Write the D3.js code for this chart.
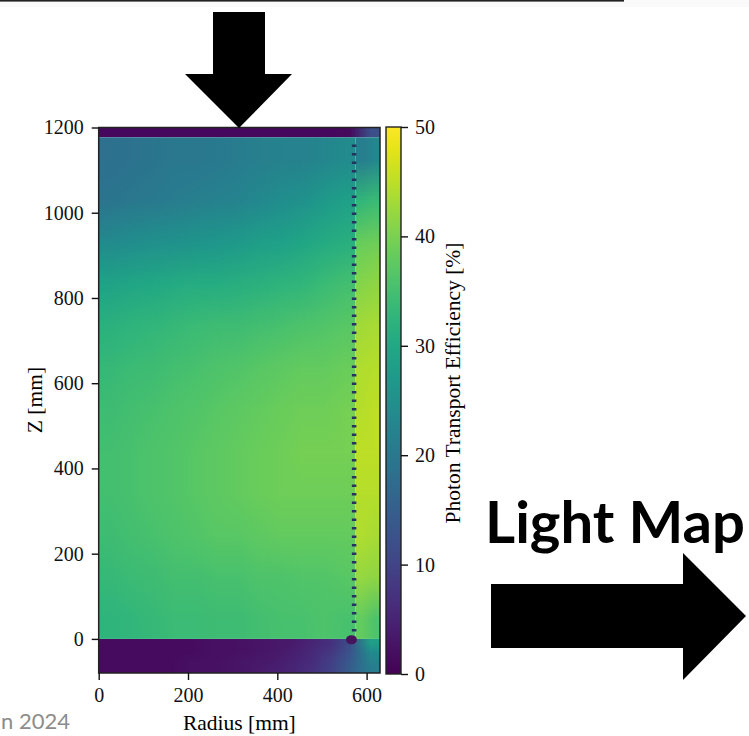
<!DOCTYPE html>
<html>
<head>
<meta charset="utf-8">
<script src="https://cdn.jsdelivr.net/npm/d3@7"></script>
<style>
  body { margin: 0; background: #fff; }
  svg { display: block; }
  .tick text { font-family: "Liberation Serif", serif; font-size: 20px; fill: #111; }
  .tick line { stroke: #111; stroke-width: 1.4; }
</style>
</head>
<body>
<script>
// valeurs (efficacite en %)
const xTicks = [0, 200, 400, 600];
const zTicks = [0, 200, 400, 600, 800, 1000, 1200];
const cTicks = [0, 10, 20, 30, 40, 50];

const rDomain = [0, 630];
const zDomain = [-80, 1200];
const cDomain = [0, 50];

// interieur : r 0..575, z 0..1177 (lignes de haut en bas)
const interiorR = [0, 575];
const interiorZ = [0, 1177];
const interior = [
  [18.5, 19, 19.5, 20, 20, 20.5, 21, 21.5, 22, 22, 23, 24],
  [19.5, 20, 20.5, 21, 21.5, 22, 22.5, 23.5, 24.5, 25.5, 27, 28.5],
  [24, 24.5, 25, 25.5, 26, 26.5, 27, 28, 28.5, 29.5, 30.5, 31.5],
  [29, 29.5, 30, 30.5, 31, 31, 31.5, 32, 32.5, 33, 34, 35],
  [32, 32.5, 33, 33.5, 34, 34.5, 34.5, 35, 35.5, 36, 36.5, 37],
  [33.5, 34, 34.5, 35, 35.5, 36, 36.5, 37, 37.5, 38, 38, 38.5],
  [34.5, 35, 35.5, 36, 36.5, 37, 37.5, 38, 38.5, 39, 39, 39.5],
  [35, 35.5, 36, 36.5, 37, 37.5, 38, 38.5, 39, 39.5, 39.5, 39.5],
  [35, 35.5, 36, 36.5, 37, 37.5, 38, 38.5, 39, 39, 39, 39],
  [34.5, 35, 35.5, 36, 36.5, 37, 37, 37.5, 38, 38, 38, 38],
  [33.5, 34, 34.5, 35, 35, 35.5, 35.5, 36, 36, 36.5, 36.5, 37],
  [32.5, 33, 33.5, 34, 34, 34.5, 34.5, 35, 35.5, 35.5, 36, 35.5]
];

// bande pres de la paroi : r 575..630
const wallR = [575, 630];
const wall = [
  [21, 23], [33, 34], [38.5, 39], [41, 41.5], [43, 43.5], [44, 44.5],
  [44.5, 45], [45, 45], [44.5, 44.5], [44, 43.5], [42, 41.5], [38, 36]
];

// bande du haut : z 1177..1200
const topZ = [1177, 1200];
const topBand = [
  [1, 1, 1, 1, 1, 1, 1, 1, 1, 1, 1, 1, 1.5, 12]
];

// zone du bas : z -80..0
const bottomZ = [-80, 0];
const bottom = [
  [1.5, 1.5, 1.5, 1.5, 1.5, 2, 2, 2.5, 3, 3.5, 5, 7, 12, 28],
  [1.5, 1.5, 1.5, 1.5, 1.5, 2, 2, 2.5, 3, 4, 5.5, 8, 13, 24],
  [1.5, 1.5, 1.5, 1.5, 2, 2, 2.5, 3, 3.5, 4.5, 6, 9, 14, 22],
  [1.5, 1.5, 1.5, 1.5, 2, 2, 2.5, 3, 4, 5, 6.5, 9.5, 15, 21]
];

// PMTs le long de la paroi
const pmtR = 572;
const pmtZ = [4, 1160];
const pmtBase = { r: 566, z: -2 };

const largura = 749, altura = 736;

const svg = d3.select("body").append("svg")
  .attr("width", largura)
  .attr("height", altura);

const x = d3.scaleLinear().domain(rDomain).range([98.7, 380]);
const y = d3.scaleLinear().domain(zDomain).range([673, 127.5]);
const cy = d3.scaleLinear().domain(cDomain).range([674, 127]);
const cor = d3.scaleSequential(d3.interpolateViridis).domain(cDomain);

// bande grise en haut de la diapo
svg.append("rect").attr("x", 0).attr("y", 0).attr("width", largura).attr("height", 7).attr("fill", "#fafafa");
svg.append("rect").attr("x", 0).attr("y", 0).attr("width", 624).attr("height", 1.6).attr("fill", "#222");

function imagem(grid, r0, r1, z0, z1) {
  const linhas = grid.length, colunas = grid[0].length;
  const cv = document.createElement("canvas");
  cv.width = colunas; cv.height = linhas;
  const ctx = cv.getContext("2d");
  const img = ctx.createImageData(colunas, linhas);
  grid.forEach(function(linha, i) {
    linha.forEach(function(v, j) {
      const c = d3.color(cor(v));
      const k = (i * colunas + j) * 4;
      img.data[k] = c.r; img.data[k + 1] = c.g; img.data[k + 2] = c.b; img.data[k + 3] = 255;
    });
  });
  ctx.putImageData(img, 0, 0);
  svg.append("image")
    .attr("href", cv.toDataURL())
    .attr("x", x(r0))
    .attr("y", y(z1))
    .attr("width", x(r1) - x(r0))
    .attr("height", y(z0) - y(z1))
    .attr("preserveAspectRatio", "none");
}

imagem(bottom, rDomain[0], rDomain[1], bottomZ[0], bottomZ[1]);
imagem(topBand, rDomain[0], rDomain[1], topZ[0], topZ[1]);
imagem(interior, interiorR[0], interiorR[1], interiorZ[0], interiorZ[1]);
imagem(wall, wallR[0], wallR[1], interiorZ[0], interiorZ[1]);

// PMTs
svg.append("line")
  .attr("x1", x(pmtR)).attr("x2", x(pmtR))
  .attr("y1", y(pmtZ[1])).attr("y2", y(pmtZ[0]))
  .attr("stroke", "#26335e")
  .attr("stroke-width", 4.5)
  .attr("stroke-dasharray", "2.5 6");

svg.append("ellipse")
  .attr("cx", x(pmtBase.r)).attr("cy", y(pmtBase.z))
  .attr("rx", 5.5).attr("ry", 4.5)
  .attr("fill", "#46145a");

// cadre
svg.append("rect")
  .attr("x", x(rDomain[0])).attr("y", y(zDomain[1]))
  .attr("width", x(rDomain[1]) - x(rDomain[0]))
  .attr("height", y(zDomain[0]) - y(zDomain[1]))
  .attr("fill", "none").attr("stroke", "#222").attr("stroke-width", 1.5);

const eixoX = svg.append("g")
  .attr("transform", "translate(0," + y(zDomain[0]) + ")")
  .call(d3.axisBottom(x).tickValues(xTicks).tickFormat(d3.format("d")).tickSize(7).tickPadding(8));
eixoX.select(".domain").remove();

const eixoY = svg.append("g")
  .attr("transform", "translate(" + x(rDomain[0]) + ",0)")
  .call(d3.axisLeft(y).tickValues(zTicks).tickFormat(d3.format("d")).tickSize(7).tickPadding(8));
eixoY.select(".domain").remove();

svg.append("text")
  .attr("x", (x(rDomain[0]) + x(rDomain[1])) / 2)
  .attr("y", 730)
  .attr("text-anchor", "middle")
  .style("font-family", "Liberation Serif, serif")
  .style("font-size", "21.5px")
  .text("Radius [mm]");

svg.append("text")
  .attr("transform", "translate(42," + 400 + ") rotate(-90)")
  .attr("text-anchor", "middle")
  .style("font-family", "Liberation Serif, serif")
  .style("font-size", "21.5px")
  .text("Z [mm]");

// barre de couleur
const gradiente = svg.append("defs").append("linearGradient")
  .attr("id", "viridis")
  .attr("x1", 0).attr("y1", 1).attr("x2", 0).attr("y2", 0);
d3.range(0, 1.0001, 0.05).forEach(function(t) {
  gradiente.append("stop").attr("offset", t).attr("stop-color", d3.interpolateViridis(t));
});

svg.append("rect")
  .attr("x", 386).attr("y", cy(cDomain[1]))
  .attr("width", 15)
  .attr("height", cy(cDomain[0]) - cy(cDomain[1]))
  .attr("fill", "url(#viridis)")
  .attr("stroke", "#222").attr("stroke-width", 1.4);

const eixoC = svg.append("g")
  .attr("transform", "translate(401,0)")
  .call(d3.axisRight(cy).tickValues(cTicks).tickSize(7).tickPadding(7));
eixoC.select(".domain").remove();

svg.append("text")
  .attr("transform", "translate(460," + 383 + ") rotate(-90)")
  .attr("text-anchor", "middle")
  .style("font-family", "Liberation Serif, serif")
  .style("font-size", "21.5px")
  .text("Photon Transport Efficiency [%]");

// fleches et texte de la diapo
const setaBaixo = [[213, 12], [265, 12], [265, 74], [292, 74], [239, 128], [185, 74], [213, 74]];
svg.append("polygon")
  .attr("points", setaBaixo.map(function(p) { return p.join(","); }).join(" "))
  .attr("fill", "#000");

const setaDireita = [[491, 584], [683, 584], [683, 553], [746, 616], [683, 680], [683, 648], [491, 648]];
svg.append("polygon")
  .attr("points", setaDireita.map(function(p) { return p.join(","); }).join(" "))
  .attr("fill", "#000");

svg.append("text")
  .attr("x", 485).attr("y", 543)
  .style("font-family", "Lato, sans-serif")
  .style("font-weight", "bold")
  .style("font-size", "58px")
  .text("Light Map");

svg.append("text")
  .attr("x", 1).attr("y", 729)
  .style("font-family", "Lato, sans-serif")
  .style("font-size", "22px")
  .attr("fill", "#8c8c8c")
  .text("n 2024");
</script>
</body>
</html>
